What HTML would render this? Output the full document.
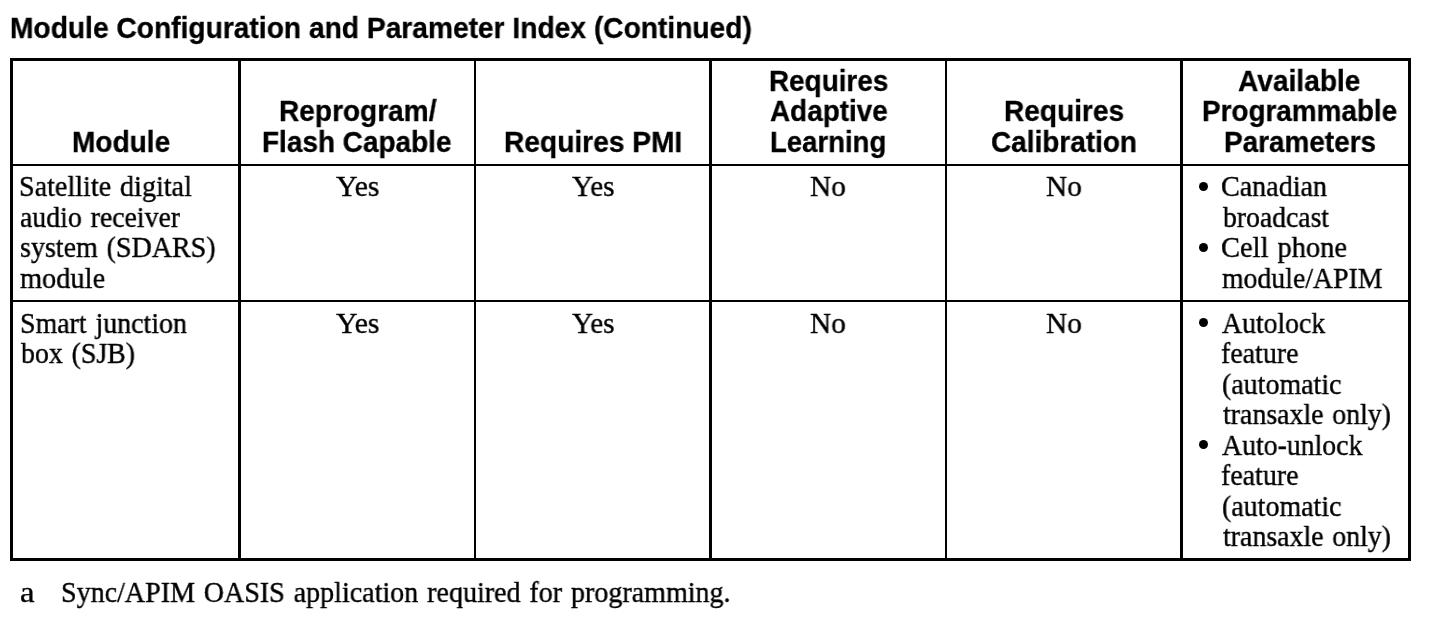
<!DOCTYPE html>
<html lang="en">
<head>
<meta charset="utf-8">
<title>Module Configuration and Parameter Index (Continued)</title>
<style>
html,body{margin:0;padding:0;background:#fff;}
body{width:1440px;height:618px;position:relative;overflow:hidden;color:#000;}
.ln{position:absolute;background:#000;}
.bu{position:absolute;background:#000;border-radius:50%;}
.t{position:absolute;white-space:nowrap;line-height:30px;height:30px;transform-origin:0 0;color:#000;will-change:transform;}
.h{font-family:"Liberation Sans",sans-serif;font-weight:bold;font-size:29.2px;-webkit-text-stroke:0.3px #000;word-spacing:0px;}
.b{font-family:"Liberation Serif",serif;font-weight:normal;font-size:30px;-webkit-text-stroke:0.4px #000;word-spacing:2px;}
</style>
</head>
<body>
<div class="ln" style="left:10px;top:58px;width:3px;height:503px"></div>
<div class="ln" style="left:238px;top:58px;width:3px;height:503px"></div>
<div class="ln" style="left:474px;top:58px;width:2px;height:503px"></div>
<div class="ln" style="left:709px;top:58px;width:3px;height:503px"></div>
<div class="ln" style="left:945px;top:58px;width:2px;height:503px"></div>
<div class="ln" style="left:1180px;top:58px;width:3px;height:503px"></div>
<div class="ln" style="left:1408px;top:58px;width:3px;height:503px"></div>
<div class="ln" style="left:10px;top:58px;width:1401px;height:3px"></div>
<div class="ln" style="left:10px;top:164px;width:1401px;height:2px"></div>
<div class="ln" style="left:10px;top:300px;width:1401px;height:2px"></div>
<div class="ln" style="left:10px;top:558px;width:1401px;height:3px"></div>
<div class="bu" style="left:1198.90px;top:181.80px;width:9.20px;height:9.20px"></div>
<div class="bu" style="left:1198.95px;top:242.85px;width:9.10px;height:9.10px"></div>
<div class="bu" style="left:1198.90px;top:317.90px;width:9.20px;height:9.20px"></div>
<div class="bu" style="left:1198.90px;top:439.80px;width:9.20px;height:9.20px"></div>
<div class="t h" style="left:9.77px;top:12.88px;transform:scaleX(0.9652)">Module Configuration and Parameter Index (Continued)</div>
<div class="t h" style="left:71.78px;top:126.88px;transform:scaleX(0.9608)">Module</div>
<div class="t h" style="left:279.24px;top:95.88px;transform:scaleX(0.9610)">Reprogram/</div>
<div class="t h" style="left:262.27px;top:126.88px;transform:scaleX(0.9571)">Flash Capable</div>
<div class="t h" style="left:504.18px;top:126.88px;transform:scaleX(0.9643)">Requires PMI</div>
<div class="t h" style="left:769.30px;top:65.88px;transform:scaleX(0.9548)">Requires</div>
<div class="t h" style="left:770.26px;top:95.88px;transform:scaleX(0.9551)">Adaptive</div>
<div class="t h" style="left:769.90px;top:126.88px;transform:scaleX(0.9433)">Learning</div>
<div class="t h" style="left:1003.59px;top:95.88px;transform:scaleX(0.9613)">Requires</div>
<div class="t h" style="left:990.51px;top:126.88px;transform:scaleX(0.9579)">Calibration</div>
<div class="t h" style="left:1238.42px;top:65.88px;transform:scaleX(0.9631)">Available</div>
<div class="t h" style="left:1202.07px;top:95.88px;transform:scaleX(0.9546)">Programmable</div>
<div class="t h" style="left:1224.09px;top:126.88px;transform:scaleX(0.9560)">Parameters</div>
<div class="t b" style="left:18.73px;top:170.88px;transform:scaleX(0.9370)">Satellite digital</div>
<div class="t b" style="left:20.31px;top:201.88px;transform:scaleX(0.9267)">audio receiver</div>
<div class="t b" style="left:19.64px;top:231.88px;transform:scaleX(0.9336)">system (SDARS)</div>
<div class="t b" style="left:19.52px;top:262.88px;transform:scaleX(0.9461)">module</div>
<div class="t b" style="left:336.03px;top:170.88px;transform:scaleX(0.9940)">Yes</div>
<div class="t b" style="left:571.63px;top:170.88px;transform:scaleX(0.9734)">Yes</div>
<div class="t b" style="left:810.44px;top:170.88px;transform:scaleX(0.9760)">No</div>
<div class="t b" style="left:1045.84px;top:170.88px;transform:scaleX(0.9760)">No</div>
<div class="t b" style="left:1220.84px;top:170.88px;transform:scaleX(0.9352)">Canadian</div>
<div class="t b" style="left:1223.03px;top:201.88px;transform:scaleX(0.9225)">broadcast</div>
<div class="t b" style="left:1220.83px;top:231.88px;transform:scaleX(0.9488)">Cell phone</div>
<div class="t b" style="left:1222.49px;top:262.88px;transform:scaleX(0.9254)">module/APIM</div>
<div class="t b" style="left:20.17px;top:307.88px;transform:scaleX(0.9299)">Smart junction</div>
<div class="t b" style="left:20.64px;top:337.88px;transform:scaleX(0.9286)">box (SJB)</div>
<div class="t b" style="left:336.03px;top:307.88px;transform:scaleX(0.9940)">Yes</div>
<div class="t b" style="left:571.63px;top:307.88px;transform:scaleX(0.9734)">Yes</div>
<div class="t b" style="left:810.44px;top:307.88px;transform:scaleX(0.9760)">No</div>
<div class="t b" style="left:1045.84px;top:307.88px;transform:scaleX(0.9760)">No</div>
<div class="t b" style="left:1222.43px;top:307.88px;transform:scaleX(0.9240)">Autolock</div>
<div class="t b" style="left:1221.35px;top:337.88px;transform:scaleX(0.9306)">feature</div>
<div class="t b" style="left:1222.08px;top:368.88px;transform:scaleX(0.9311)">(automatic</div>
<div class="t b" style="left:1222.60px;top:398.88px;transform:scaleX(0.9278)">transaxle only)</div>
<div class="t b" style="left:1222.43px;top:429.88px;transform:scaleX(0.9258)">Auto-unlock</div>
<div class="t b" style="left:1221.35px;top:459.88px;transform:scaleX(0.9306)">feature</div>
<div class="t b" style="left:1222.08px;top:490.88px;transform:scaleX(0.9311)">(automatic</div>
<div class="t b" style="left:1222.60px;top:520.88px;transform:scaleX(0.9278)">transaxle only)</div>
<div class="t b" style="left:19.91px;top:576.88px;transform:scaleX(1.0890)">a</div>
<div class="t b" style="left:61.34px;top:576.88px;transform:scaleX(0.9344)">Sync/APIM OASIS application required for programming.</div>
</body>
</html>
